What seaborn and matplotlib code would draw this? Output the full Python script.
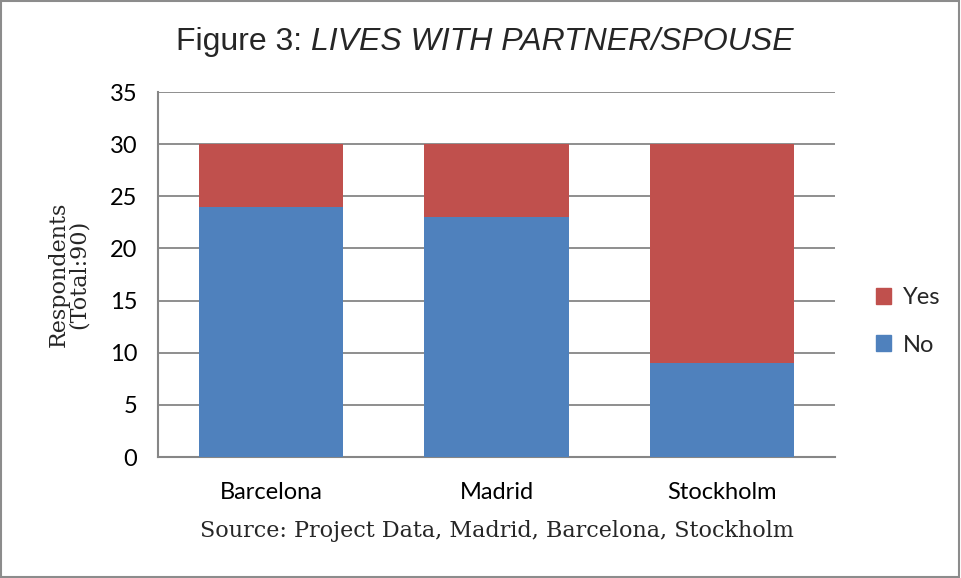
import seaborn           as sns
import matplotlib.pyplot as plt
import pandas            as pd
from matplotlib.patches import Rectangle, Patch

cities = ["Barcelona", "Madrid", "Stockholm"]
no_vals  = [24, 23, 9]
yes_vals = [6, 7, 21]
yticks = [0, 5, 10, 15, 20, 25, 30, 35]

blue = "#4F81BD"
red  = "#C0504D"
grey = "#868686"

df = pd.DataFrame({"city": cities, "No": no_vals, "Yes": yes_vals})
df["total"] = df["No"] + df["Yes"]

sns.set_style("white")
plt.rcParams["font.family"] = ["Lato", "DejaVu Sans"]

fig = plt.figure(figsize=(9.61, 5.78), dpi=100)
ax = fig.add_axes([0.1644, 0.2093, 0.7045, 0.6315])

# stacked: total in red, No on top of it in blue
sns.barplot(data=df, x="city", y="total", color=red, width=0.64,
            saturation=1, ax=ax, zorder=3, linewidth=0)
sns.barplot(data=df, x="city", y="No", color=blue, width=0.64,
            saturation=1, ax=ax, zorder=3, linewidth=0)

ax.set_ylim(0, 35)
ax.set_yticks(yticks)
ax.set_xlim(-0.5, 2.5)
ax.yaxis.grid(True, color=grey, linewidth=1.3, zorder=0)
ax.set_axisbelow(True)
for s in ["top", "right"]:
    ax.spines[s].set_visible(False)
for s in ["left", "bottom"]:
    ax.spines[s].set_color(grey)
    ax.spines[s].set_linewidth(1.5)
ax.tick_params(axis="both", labelsize=17, length=0, colors="black")
ax.tick_params(axis="y", pad=15)
ax.tick_params(axis="x", pad=18)

ax.set_ylabel("Respondents\n(Total:90)", family="DejaVu Serif", fontsize=16,
              linespacing=0.9, labelpad=14)
ax.set_xlabel("Source: Project Data, Madrid, Barcelona, Stockholm",
              family="DejaVu Serif", fontsize=16, labelpad=12)

# title: plain prefix + italic part, centred as one line
t1 = fig.text(0.5, 0.927, "Figure 3: ", ha="left", va="center",
              family="Liberation Sans", fontsize=23)
t2 = fig.text(0.5, 0.927, "LIVES WITH PARTNER/SPOUSE", ha="left", va="center",
              family="Liberation Sans", fontsize=23, style="italic")
fig.canvas.draw()
r = fig.canvas.get_renderer()
w1 = t1.get_window_extent(r).width / fig.bbox.width
w2 = t2.get_window_extent(r).width / fig.bbox.width
x0 = 485 / 961 - (w1 + w2) / 2
t1.set_x(x0)
t2.set_x(x0 + w1)

handles = [Patch(color=red, label="Yes"), Patch(color=blue, label="No")]
fig.legend(handles=handles, loc="center left", bbox_to_anchor=(0.889, 0.444),
           frameon=False, fontsize=17, handlelength=0.65, handleheight=0.65,
           handletextpad=0.5, labelspacing=1.12)

fig.patches.append(Rectangle((0.001, 0.002), 0.997, 0.996, transform=fig.transFigure,
                             fill=False, edgecolor="#8c8c8c", linewidth=1.5))

plt.savefig("out.png", dpi=100)
